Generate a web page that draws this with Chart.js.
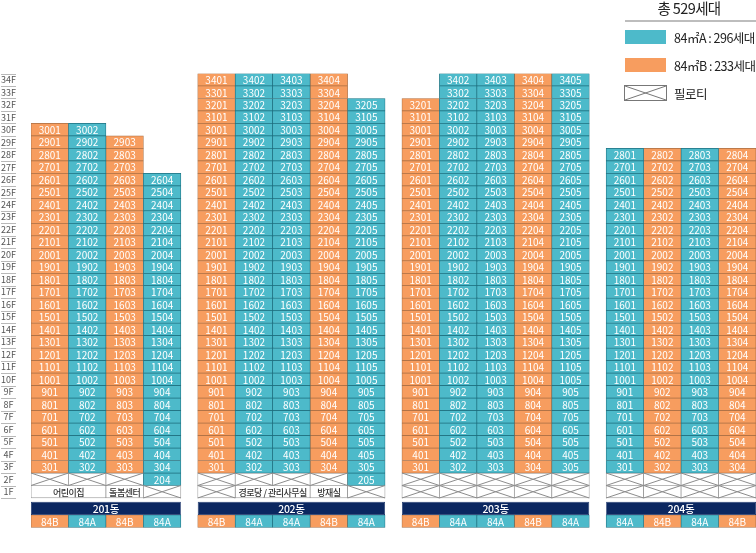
<!DOCTYPE html>
<html>
<head>
<meta charset="utf-8">
<title>동호수 배치도</title>
<script src="https://cdn.jsdelivr.net/npm/chart.js@4"></script>
<style>
	html, body { margin: 0; padding: 0; background: #fff; overflow: hidden; }
	canvas { display: block; }
</style>
</head>
<body>
<canvas id="plan" width="756" height="553"></canvas>
<script>
var floorLabels = ["34F","33F","32F","31F","30F","29F","28F","27F","26F","25F","24F","23F","22F","21F","20F","19F","18F","17F","16F","15F","14F","13F","12F","11F","10F","9F","8F","7F","6F","5F","4F","3F","2F","1F"];
var buildings = ["201동","202동","203동","204동"];

// one entry per building, one value per line of units
var unitTypes = [["84B","84A","84B","84A"],["84B","84A","84A","84B","84A"],["84B","84A","84A","84B","84A"],["84A","84B","84A","84B"]];
var topFloors = [[30,30,29,26],[34,34,34,34,32],[32,34,34,34,34],[28,28,28,28]];
var lowestFloors = [[3,3,3,2],[3,3,3,3,2],[3,3,3,3,3],[3,3,3,3]];

// rooms on the ground floor
var roomNames = ["어린이집","돌봄센터","경로당 / 관리사무실","방재실"];
var roomBuildings = [0,0,1,1];
var roomFloors = [1,1,1,1];
var roomFirstLines = [0,2,1,3];
var roomSpans = [2,1,2,1];

var legendTitle = "총 529세대";
var legendLabels = ["84㎡A : 296세대","84㎡B : 233세대","필로티"];

var TEAL = "#4dbaca";
var ORANGE = "#f79d5f";
var NAVY = "#0b2760";
var FONT = "'Noto Sans CJK KR', 'Noto Sans', sans-serif";
var BUILDING_GAP = 0.45;

function buildingStart(b)
{
	var s = 0;
	for (var i = 0; i < b; i++)
	{
		s += unitTypes[i].length + BUILDING_GAP;
	}
	return s;
}

var cellsA = [], cellsB = [], pilotis = [], rooms = [], banners = [];

for (var b = 0; b < buildings.length; b++)
{
	var start = buildingStart(b);
	var lines = unitTypes[b].length;
	banners.push({ x: [start, start + lines], y: -0.83, label: buildings[b] });
	for (var c = 0; c < lines; c++)
	{
		var target = unitTypes[b][c] == "84A" ? cellsA : cellsB;
		target.push({ x: [start + c, start + c + 1], y: -1.86, label: unitTypes[b][c] });
		for (var f = topFloors[b][c]; f >= 1; f--)
		{
			var cell = { x: [start + c, start + c + 1], y: f - 0.5 };
			if (f >= lowestFloors[b][c])
			{
				cell.label = String(f * 100 + c + 1);
				target.push(cell);
			}
			else
			{
				var taken = false;
				for (var r = 0; r < roomNames.length; r++)
				{
					if (roomBuildings[r] == b && roomFloors[r] == f && c >= roomFirstLines[r] && c < roomFirstLines[r] + roomSpans[r])
					{
						taken = true;
					}
				}
				if (!taken)
				{
					pilotis.push(cell);
				}
			}
		}
	}
}

for (var r = 0; r < roomNames.length; r++)
{
	var s = buildingStart(roomBuildings[r]) + roomFirstLines[r];
	rooms.push({ x: [s, s + roomSpans[r]], y: roomFloors[r] - 0.5, label: roomNames[r] });
}

function crossBox(ctx, left, top, right, bottom, color)
{
	ctx.strokeStyle = color;
	ctx.lineWidth = 1;
	ctx.beginPath();
	ctx.moveTo(left, top);
	ctx.lineTo(right, bottom);
	ctx.moveTo(left, bottom);
	ctx.lineTo(right, top);
	ctx.stroke();
}

var planPlugin = {
	id: "plan",
	afterDatasetsDraw: function(chart)
	{
		var ctx = chart.ctx;
		ctx.save();
		ctx.textAlign = "center";
		ctx.textBaseline = "middle";
		chart.data.datasets.forEach(function(ds, i)
		{
			var meta = chart.getDatasetMeta(i);
			meta.data.forEach(function(bar, j)
			{
				if (ds.crossed)
				{
					crossBox(ctx, bar.base, bar.y - bar.height / 2, bar.x, bar.y + bar.height / 2, "#8c8c8c");
				}
				var label = ds.data[j].label;
				if (label)
				{
					ctx.fillStyle = ds.textColor;
					ctx.font = ds.textFont;
					ctx.letterSpacing = ds.textSpacing || "0px";
					ctx.fillText(label, (bar.base + bar.x) / 2, bar.y + 0.5);
				}
			});
		});
		ctx.letterSpacing = "0px";

		// separators next to the floor names
		var yScale = chart.scales.y;
		ctx.strokeStyle = "#b9b9b9";
		ctx.lineWidth = 1;
		ctx.beginPath();
		for (var k = 0; k <= floorLabels.length; k++)
		{
			var py = Math.round(yScale.getPixelForValue(k)) + 0.5;
			ctx.moveTo(1, py);
			ctx.lineTo(16, py);
		}
		ctx.stroke();

		// legend
		ctx.textAlign = "center";
		ctx.fillStyle = "#222";
		ctx.font = "14.5px " + FONT;
		ctx.letterSpacing = "-0.6px";
		ctx.fillText(legendTitle, 689, 8);
		ctx.fillStyle = "#bdbdbd";
		ctx.fillRect(625, 20, 131, 2);

		ctx.textAlign = "left";
		ctx.font = "12.5px " + FONT;
		ctx.letterSpacing = "-0.5px";
		ctx.fillStyle = TEAL;
		ctx.fillRect(625, 30, 41, 14);
		ctx.fillStyle = ORANGE;
		ctx.fillRect(625, 58, 41, 14);
		ctx.fillStyle = "#fff";
		ctx.fillRect(625, 86, 41, 14);
		ctx.strokeStyle = "#777";
		ctx.strokeRect(624.5, 85.5, 42, 15);
		crossBox(ctx, 625, 86, 666, 100, "#777");
		ctx.fillStyle = "#222";
		ctx.fillText(legendLabels[0], 674, 38);
		ctx.fillText(legendLabels[1], 674, 66);
		ctx.fillText(legendLabels[2], 674, 94);
		ctx.restore();
	}
};

function barSet(name, data, fill, border, textColor, textFont, extra)
{
	var ds = {
		label: name,
		data: data,
		backgroundColor: fill,
		borderColor: border,
		borderWidth: 0.7,
		borderSkipped: false,
		grouped: false,
		barPercentage: 1,
		categoryPercentage: 1,
		textColor: textColor,
		textFont: textFont
	};
	return Object.assign(ds, extra || {});
}

new Chart("plan", {
	type: "bar",
	plugins: [planPlugin],
	data: {
		datasets: [
			barSet("84A", cellsA, TEAL, "#1f6f7f", "#ffffff", "10px " + FONT),
			barSet("84B", cellsB, ORANGE, "#a86f45", "#ffffff", "10px " + FONT),
			barSet("필로티", pilotis, "#ffffff", "#8c8c8c", "#333", "10px " + FONT, { crossed: true }),
			barSet("시설", rooms, "#ffffff", "#8c8c8c", "#333", "500 9px " + FONT, { textSpacing: "-0.5px" }),
			barSet("동", banners, NAVY, NAVY, "#ffffff", "500 10.5px " + FONT, { barPercentage: 1.065, textSpacing: "-0.3px" })
		]
	},
	options: {
		indexAxis: "y",
		responsive: false,
		animation: false,
		events: [],
		layout: { padding: { top: 73.5, bottom: 23.8, left: 0, right: 0 } },
		plugins: {
			legend: { display: false },
			tooltip: { enabled: false },
			title: { display: false }
		},
		scales: {
			x: {
				type: "linear",
				display: false,
				min: 0,
				max: 19.35
			},
			y: {
				type: "linear",
				offset: false,
				min: -2.5,
				max: 34,
				grid: { display: false, drawTicks: false, offset: false },
				border: { display: false },
				afterBuildTicks: function(scale)
				{
					scale.ticks = floorLabels.map(function(label, i)
					{
						return { value: floorLabels.length - i - 0.5 };
					});
				},
				afterFit: function(scale)
				{
					scale.width = 31;
					scale.paddingTop = 0;
					scale.paddingBottom = 0;
				},
				ticks: {
					autoSkip: false,
					crossAlign: "center",
					padding: 15,
					color: "#555",
					font: { size: 9, family: FONT },
					callback: function(value, index)
					{
						return floorLabels[index];
					}
				}
			}
		}
	}
});
</script>
</body>
</html>
